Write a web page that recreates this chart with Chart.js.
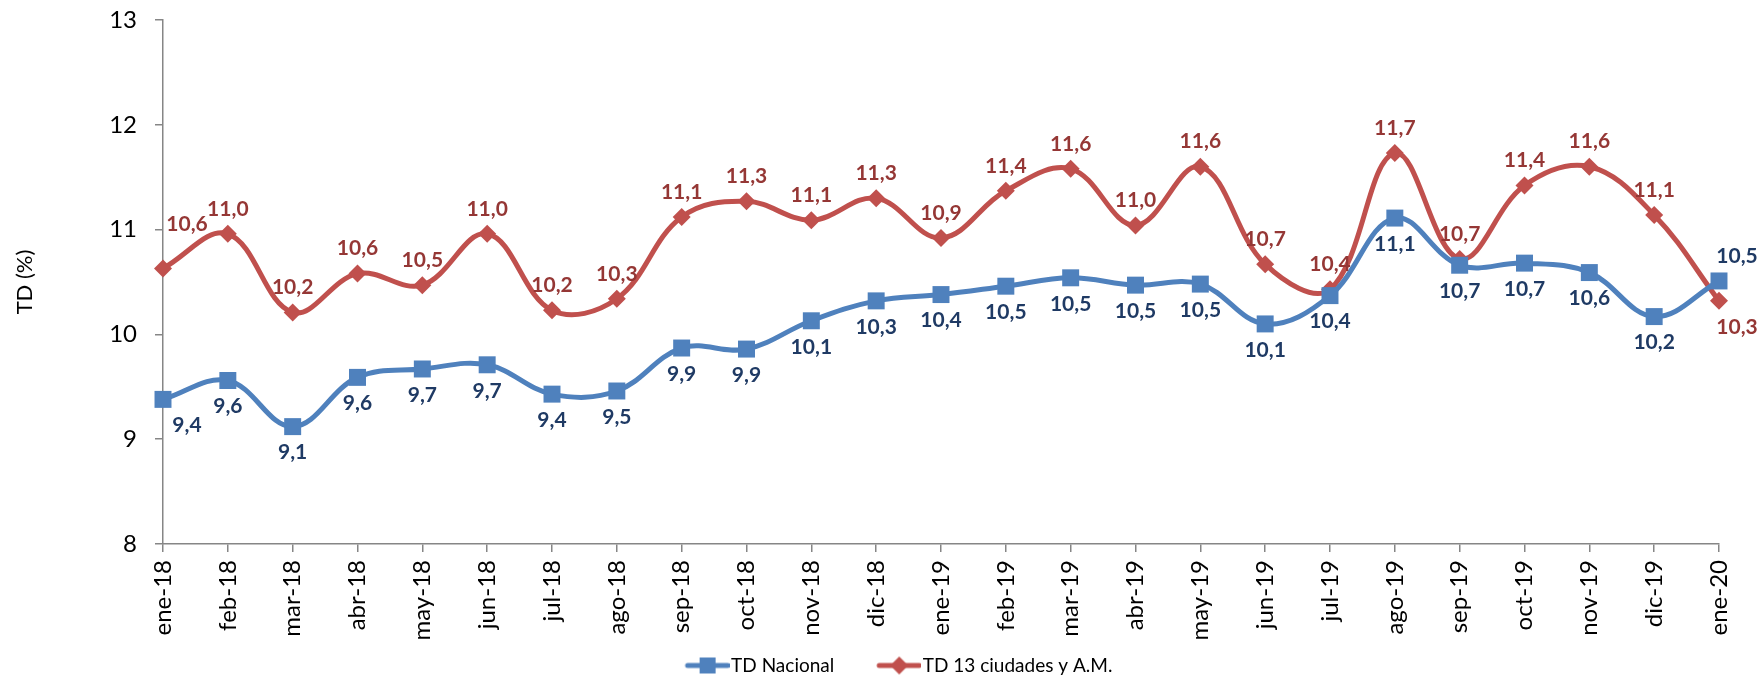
<!DOCTYPE html>
<html>
<head>
<meta charset="utf-8">
<script src="https://cdn.jsdelivr.net/npm/chart.js@4.4.1/dist/chart.umd.min.js"></script>
<style>
  html, body { margin: 0; padding: 0; background: #fff; }
</style>
</head>
<body>
<canvas id="ch-td" width="1762" height="675"></canvas>
<script>
// ── Datos ────────────────────────────────────────────────────────────────
const MESES = ['ene-18', 'feb-18', 'mar-18', 'abr-18', 'may-18', 'jun-18', 'jul-18', 'ago-18',
               'sep-18', 'oct-18', 'nov-18', 'dic-18', 'ene-19', 'feb-19', 'mar-19', 'abr-19',
               'may-19', 'jun-19', 'jul-19', 'ago-19', 'sep-19', 'oct-19', 'nov-19', 'dic-19', 'ene-20'];
const TD_NACIONAL = [9.38, 9.56, 9.12, 9.59, 9.67, 9.71, 9.43, 9.46, 9.87, 9.86, 10.13, 10.32, 10.38,
                     10.46, 10.54, 10.47, 10.48, 10.10, 10.37, 11.11, 10.66, 10.68, 10.59, 10.17, 10.51];
const TD_13_CIUDADES = [10.63, 10.96, 10.21, 10.58, 10.47, 10.96, 10.23, 10.34, 11.12, 11.27, 11.09, 11.30, 10.92,
                        11.37, 11.58, 11.04, 11.60, 10.67, 10.43, 11.73, 10.72, 11.42, 11.60, 11.14, 10.32];
const Y_MIN = 8, Y_MAX = 13, Y_PASO = 1;

const AZUL = '#4F81BD', AZUL_TXT = '#1F3A64';
const ROJO = '#C0504D', ROJO_TXT = '#953735';
const EJE  = '#868686';

Chart.defaults.font.family = 'Lato, "Open Sans", sans-serif';
Chart.defaults.color = '#000';

// ── Icono de leyenda: línea con marcador (estilo Excel) ─────────────────────
function iconoLeyenda(color, forma) {
    const c = document.createElement('canvas');
    c.width = 95; c.height = 24;
    const g = c.getContext('2d');
    const x0 = c.width - 44, cy = c.height / 2;
    g.strokeStyle = color; g.lineWidth = 5; g.lineCap = 'round';
    g.beginPath(); g.moveTo(x0 + 2, cy); g.lineTo(c.width - 2, cy); g.stroke();
    g.fillStyle = color;
    const mx = x0 + 22;
    if (forma === 'rect') {
        g.fillRect(mx - 8, cy - 8, 16, 16);
    } else {
        g.beginPath();
        g.moveTo(mx, cy - 9); g.lineTo(mx + 9, cy); g.lineTo(mx, cy + 9); g.lineTo(mx - 9, cy);
        g.closePath(); g.fill();
    }
    return c;
}

// ── Etiquetas de datos (lado opuesto a la otra serie) ───────────────────────
const etiquetas = {
    id: 'etiquetas',
    afterDatasetsDraw(chart) {
        const ctx = chart.ctx;
        const sets = chart.data.datasets;
        ctx.save();
        ctx.font = 'bold 21px Lato, "Open Sans", sans-serif';
        ctx.textAlign = 'center';
        ctx.textBaseline = 'middle';
        sets.forEach((ds, i) => {
            const otra = sets[1 - i].data;
            const meta = chart.getDatasetMeta(i);
            ctx.fillStyle = ds.labelColor;
            meta.data.forEach((pt, j) => {
                const v = ds.data[j];
                const arriba = v > otra[j];
                let dx = 0, dy = arriba ? -25 : 26;
                if (j === 0) { dx = 24; if (arriba) dy = -44; }
                else if (j === ds.data.length - 1) dx = 18;
                ctx.fillText(v.toFixed(1).replace('.', ','), pt.x + dx, pt.y + dy);
            });
        });
        ctx.restore();
    },
};

const ctx = document.getElementById('ch-td').getContext('2d');
new Chart(ctx, {
    type: 'line',
    data: {
        labels: MESES,
        datasets: [
            {
                label: 'TD Nacional',
                data: TD_NACIONAL,
                borderColor: AZUL, backgroundColor: AZUL,
                borderWidth: 5, tension: 0.38,
                pointStyle: 'rect', pointRadius: 12, pointBorderWidth: 0,
                labelColor: AZUL_TXT, clip: false,
            },
            {
                label: 'TD 13 ciudades y A.M.',
                data: TD_13_CIUDADES,
                borderColor: ROJO, backgroundColor: ROJO,
                borderWidth: 5, tension: 0.38,
                pointStyle: 'rectRot', pointRadius: 9, pointBorderWidth: 0,
                labelColor: ROJO_TXT, clip: false,
            },
        ],
    },
    options: {
        responsive: false, animation: false, devicePixelRatio: 1,
        layout: { padding: { left: 36, right: 43, top: 20, bottom: -10 } },
        plugins: {
            legend: {
                position: 'bottom',
                labels: {
                    usePointStyle: true, pointStyleWidth: 79, padding: 0,
                    font: { size: 19 }, color: '#000',
                    generateLabels: chart => chart.data.datasets.map((ds, i) => ({
                        text: ds.label, datasetIndex: i, fontColor: '#000',
                        pointStyle: iconoLeyenda(ds.borderColor, ds.pointStyle),
                        lineWidth: 0, strokeStyle: 'transparent', fillStyle: 'transparent',
                    })),
                },
            },
            tooltip: { enabled: false },
        },
        scales: {
            x: {
                offset: false,
                afterFit: s => { s.height = 112; },
                grid: { drawOnChartArea: false, tickLength: 8, color: EJE, lineWidth: 1.5, offset: false },
                border: { color: EJE, width: 1.5 },
                ticks: { autoSkip: false, minRotation: 90, maxRotation: 90, padding: 8, font: { size: 24 }, color: '#000' },
            },
            y: {
                min: Y_MIN, max: Y_MAX,
                afterFit: s => { s.width = 127; s.paddingTop = 0; s.paddingBottom = 0; },
                grid: { drawOnChartArea: false, tickLength: 8, color: EJE, lineWidth: 1.5 },
                border: { color: EJE, width: 1.5 },
                ticks: { stepSize: Y_PASO, padding: 18, font: { size: 24 }, color: '#000' },
                title: { display: true, text: 'TD (%)', font: { size: 22 }, color: '#000', padding: { top: -24, bottom: 0 } },
            },
        },
    },
    plugins: [etiquetas],
});
</script>
</body>
</html>
